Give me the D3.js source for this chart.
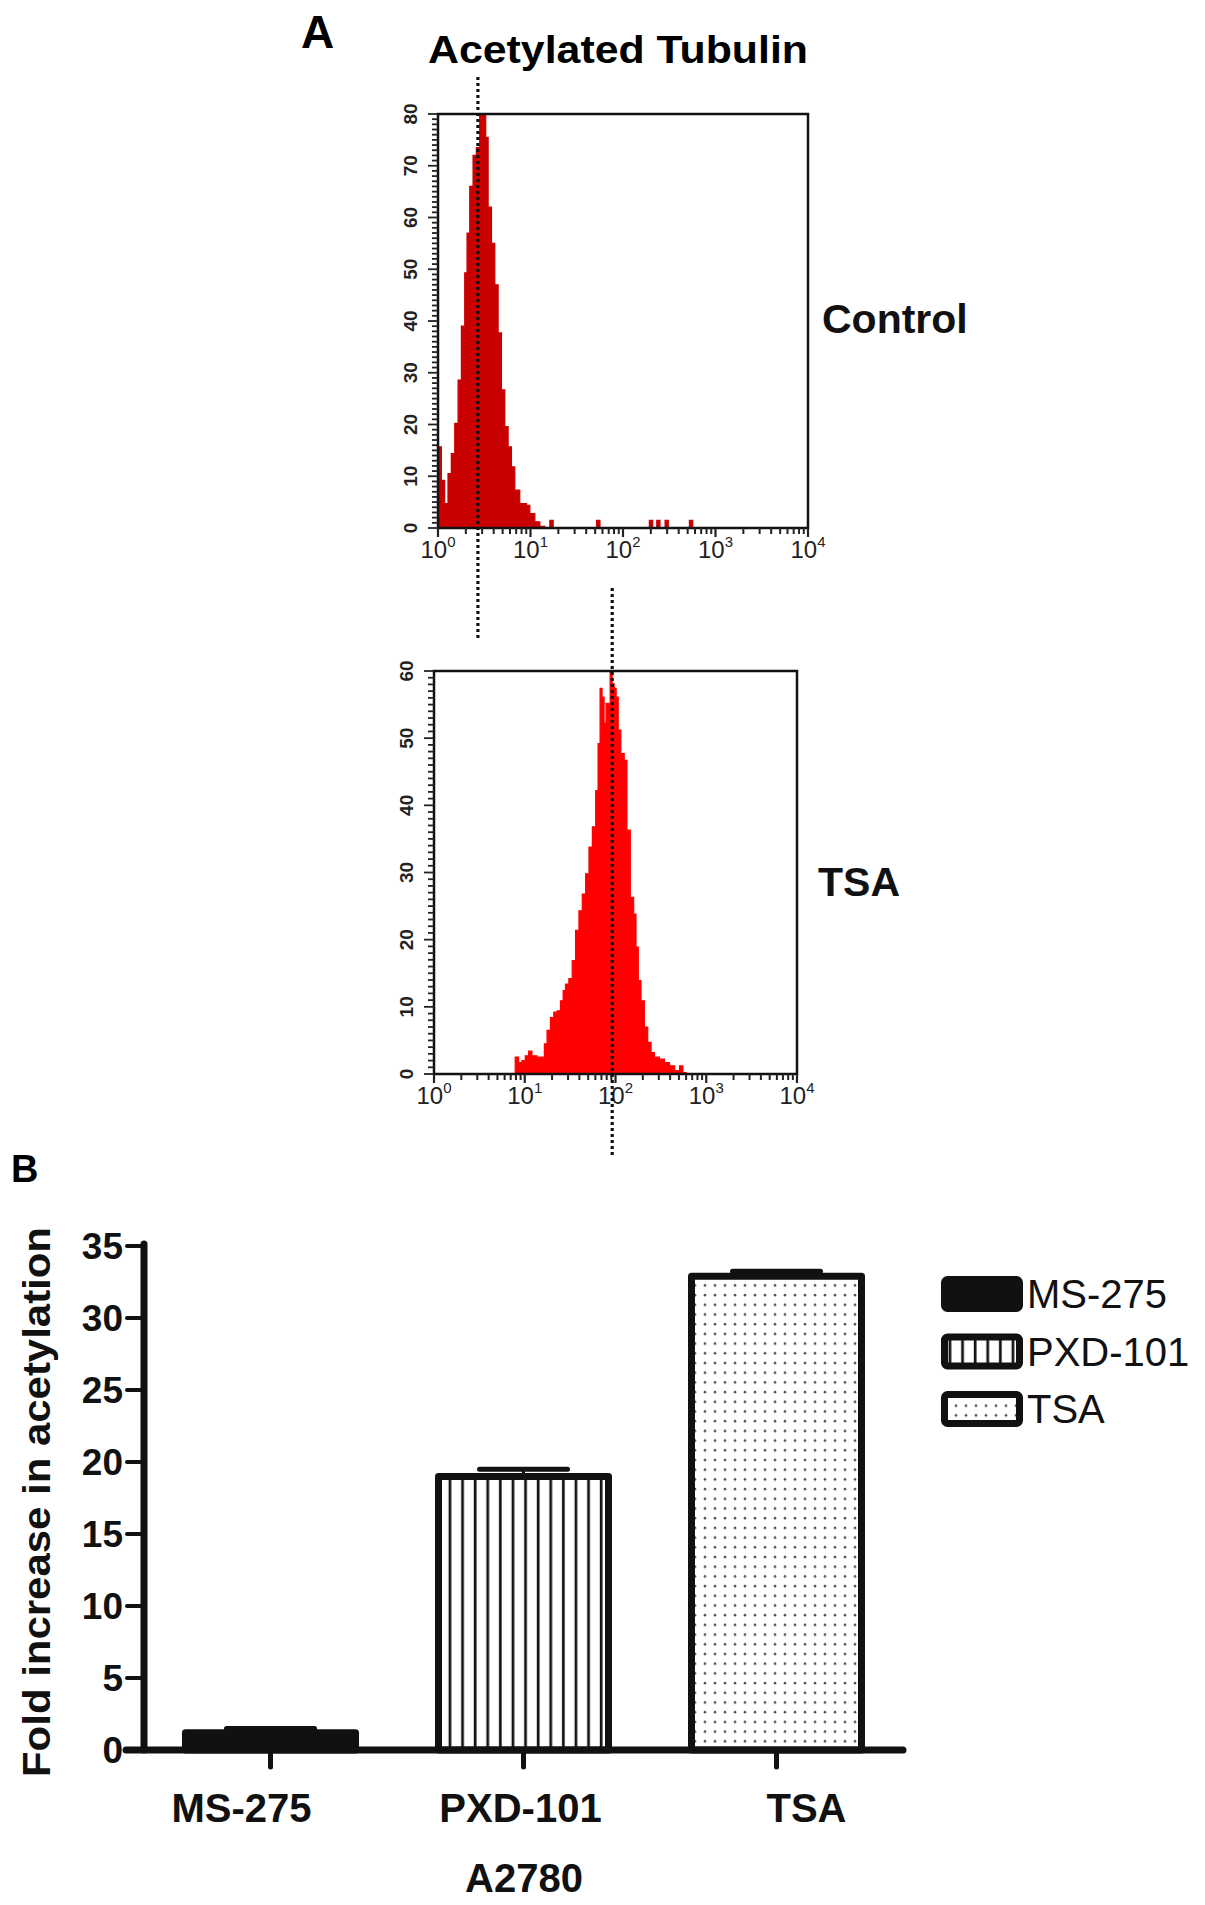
<!DOCTYPE html>
<html>
<head>
<meta charset="UTF-8">
<title>Acetylated Tubulin</title>
<script src="https://cdn.jsdelivr.net/npm/d3@7"></script>
<style>
  body { margin: 0; background: #fff; }
  text { font-family: "Liberation Sans", Arial, Helvetica, sans-serif; }
</style>
</head>
<body>
<svg id="fig" width="1205" height="1905"></svg>
<script>
// --- panel A: flow histograms (log10 intensity -> events) ---
var ctrlLog = [0.000, 0.036, 0.072, 0.108, 0.144, 0.181, 0.217, 0.253, 0.289, 0.314, 0.343, 0.379,
    0.415, 0.451, 0.487, 0.516, 0.542, 0.578, 0.614, 0.650, 0.686, 0.722, 0.758, 0.794, 0.830,
    0.884, 0.957, 0.993, 1.047, 1.101, 1.155, 1.209, 1.245, 1.679, 1.715, 1.751, 2.256, 2.285,
    2.321, 2.365, 2.400, 2.455, 2.490, 2.690, 2.718, 2.754, 4.000];
var ctrlCount = [15.7, 9.2, 4.7, 10.5, 14.4, 20.2, 28.6, 39, 49.3, 57, 66, 72,
    73.5, 80, 80, 75.5, 62, 55, 47, 37.7, 26.7, 19.6, 15.7, 11.8, 7.3,
    4.7, 4.4, 2.8, 1.2, 0.3, 0, 1.5, 0, 0, 1.5, 0, 0, 1.5,
    0, 1.5, 0, 1.5, 0, 0, 1.5, 0, 0];
var ctrlMarker = 2.7;

var tsaLog = [0.000, 0.895, 0.932, 0.969, 1.006, 1.043, 1.079, 1.135, 1.190, 1.216, 1.246, 1.283,
    1.320, 1.357, 1.394, 1.423, 1.449, 1.486, 1.523, 1.560, 1.597, 1.634, 1.671, 1.708, 1.745,
    1.782, 1.808, 1.830, 1.852, 1.874, 1.896, 1.919, 1.941, 1.963, 1.985, 2.007, 2.030, 2.059,
    2.096, 2.126, 2.163, 2.200, 2.226, 2.251, 2.281, 2.318, 2.355, 2.392, 2.429, 2.484, 2.540,
    2.595, 2.651, 2.706, 2.743, 2.780, 4.000];
var tsaCount = [0, 2.5, 1.7, 2, 2.7, 3.4, 2.7, 2.5, 2.5, 4.5, 6.5, 8.4,
    9.2, 9.4, 10.9, 12.4, 13.4, 14.2, 16.9, 21.4, 24.3, 26.8, 29.8, 33.8, 36.8,
    42.2, 49.2, 57.4, 56.1, 52.2, 55.2, 55.2, 59.9, 58.1, 57.4, 56.1, 51.2, 47.7,
    46.7, 36.3, 26.3, 23.8, 18.9, 13.9, 10.9, 7, 4.7, 3.2, 2.5, 2.2, 1.7,
    1.2, 0.5, 1.2, 0.2, 0, 0];
var tsaMarker = 92;

var decades = [1, 10, 100, 1000, 10000];

// --- panel B: fold increase in acetylation, A2780 ---
var drugs = ["MS-275", "PXD-101", "TSA"];
var foldMean = [1.2, 19.0, 32.9];
var foldErr = [0.3, 0.5, 0.35];
var foldTicks = [0, 5, 10, 15, 20, 25, 30, 35];

var svg = d3.select("#fig");
var defs = svg.append("defs");

defs.append("pattern")
    .attr("id", "vlines")
    .attr("patternUnits", "userSpaceOnUse")
    .attr("width", 12.6).attr("height", 10)
  .append("rect")
    .attr("x", 7.6).attr("y", 0).attr("width", 2.7).attr("height", 10)
    .attr("fill", "#111");

var dp = defs.append("pattern")
    .attr("id", "dots")
    .attr("patternUnits", "userSpaceOnUse")
    .attr("width", 10).attr("height", 9.7);
dp.append("rect").attr("width", 10).attr("height", 9.7).attr("fill", "#fff");
dp.append("circle").attr("cx", 5).attr("cy", 5).attr("r", 1.3).attr("fill", "#555");

// headings
svg.append("text").attr("x", 301).attr("y", 48)
    .attr("font-size", 46).attr("font-weight", "bold").text("A");
svg.append("text").attr("x", 428).attr("y", 63)
    .attr("font-size", 39).attr("font-weight", "bold")
    .attr("textLength", 380).attr("lengthAdjust", "spacingAndGlyphs")
    .text("Acetylated Tubulin");
svg.append("text").attr("x", 11).attr("y", 1182)
    .attr("font-size", 38).attr("font-weight", "bold").text("B");

function histogram(o) {
    var x = d3.scaleLog().domain([1, 10000]).range([o.left, o.right]);
    var y = d3.scaleLinear().domain([0, o.ymax]).range([o.bottom, o.top]);
    var g = svg.append("g");

    var pts = o.logs.map(function (l, i) { return [Math.pow(10, l), o.counts[i]]; });
    var area = d3.area()
        .curve(d3.curveStepAfter)
        .x(function (d) { return x(d[0]); })
        .y0(y(0))
        .y1(function (d) { return y(d[1]); });
    g.append("path").datum(pts)
        .attr("d", area)
        .attr("fill", o.color)
        .attr("stroke", o.color)
        .attr("stroke-width", 1.2);

    // frame
    g.append("rect")
        .attr("x", o.left).attr("y", o.top)
        .attr("width", o.right - o.left).attr("height", o.bottom - o.top)
        .attr("fill", "none").attr("stroke", "#111").attr("stroke-width", 2.5);

    // y ticks
    var minorY = d3.range(0, o.ymax + 1, 1);
    g.selectAll(".ym").data(minorY).enter().append("line")
        .attr("x1", function (d) { return d % 10 === 0 ? o.left - 10 : o.left - 6; })
        .attr("x2", o.left)
        .attr("y1", function (d) { return y(d); })
        .attr("y2", function (d) { return y(d); })
        .attr("stroke", "#222").attr("stroke-width", 1.8);
    g.selectAll(".yl").data(d3.range(0, o.ymax + 1, 10)).enter().append("text")
        .attr("transform", function (d) { return "translate(" + (o.left - 21) + "," + y(d) + ") rotate(-90)"; })
        .attr("text-anchor", "middle")
        .attr("font-size", 19).attr("font-weight", "bold").attr("fill", "#222")
        .text(function (d) { return d; });

    // x ticks (log)
    var minorX = [];
    decades.slice(0, 4).forEach(function (d) {
        for (var k = 2; k <= 9; k++) minorX.push(d * k);
    });
    g.selectAll(".xm").data(minorX).enter().append("line")
        .attr("x1", function (d) { return x(d); }).attr("x2", function (d) { return x(d); })
        .attr("y1", o.bottom).attr("y2", o.bottom + 6)
        .attr("stroke", "#222").attr("stroke-width", 2);
    g.selectAll(".xM").data(decades).enter().append("line")
        .attr("x1", function (d) { return x(d); }).attr("x2", function (d) { return x(d); })
        .attr("y1", o.bottom).attr("y2", o.bottom + 9)
        .attr("stroke", "#222").attr("stroke-width", 2.2);
    var lab = g.selectAll(".xl").data(decades).enter().append("text")
        .attr("x", function (d) { return x(d); })
        .attr("y", o.bottom + 30)
        .attr("text-anchor", "middle")
        .attr("font-size", 24).attr("fill", "#222");
    lab.append("tspan").text("10");
    lab.append("tspan").attr("dy", -11).attr("font-size", 15)
        .text(function (d) { return Math.round(Math.log10(d)); });

    // marker line
    g.append("line")
        .attr("x1", x(o.marker)).attr("x2", x(o.marker))
        .attr("y1", o.markTop).attr("y2", o.markBottom)
        .attr("stroke", "#111").attr("stroke-width", 3.2)
        .attr("stroke-dasharray", "3,3");

    svg.append("text").attr("x", o.labelX).attr("y", o.labelY)
        .attr("font-size", 41).attr("font-weight", "bold").attr("fill", "#111")
        .text(o.label);
}

histogram({ left: 438, right: 808, top: 114, bottom: 528, ymax: 80,
    logs: ctrlLog, counts: ctrlCount, color: "#c80000",
    marker: ctrlMarker, markTop: 77, markBottom: 640,
    label: "Control", labelX: 822, labelY: 333 });

histogram({ left: 434, right: 797, top: 671, bottom: 1074, ymax: 60,
    logs: tsaLog, counts: tsaCount, color: "#ff0000",
    marker: tsaMarker, markTop: 588, markBottom: 1158,
    label: "TSA", labelX: 818, labelY: 896 });

// --- bar chart ---
var yB = d3.scaleLinear().domain([0, 35]).range([1750, 1246]);
var xB = d3.scaleBand().domain(drugs).range([144, 903])
    .paddingInner(0.328).paddingOuter(0.164);
var fills = ["#111", "url(#vlines)", "url(#dots)"];
var labelNudge = [-29, -3, 30];

var bars = svg.append("g");
bars.selectAll("rect").data(drugs).enter().append("rect")
    .attr("x", function (d) { return xB(d); })
    .attr("y", function (d, i) { return yB(foldMean[i]); })
    .attr("width", xB.bandwidth())
    .attr("height", function (d, i) { return yB(0) - yB(foldMean[i]); })
    .attr("fill", function (d, i) { return fills[i]; })
    .attr("stroke", "#111").attr("stroke-width", 7)
    .attr("stroke-linejoin", "round");

var err = svg.append("g").attr("stroke", "#111").attr("stroke-linecap", "round");
drugs.forEach(function (d, i) {
    var cx = xB(d) + xB.bandwidth() / 2;
    err.append("line")
        .attr("x1", cx).attr("x2", cx)
        .attr("y1", yB(foldMean[i])).attr("y2", yB(foldMean[i] + foldErr[i]))
        .attr("stroke-width", 3);
    err.append("line")
        .attr("x1", cx - 44).attr("x2", cx + 44)
        .attr("y1", yB(foldMean[i] + foldErr[i])).attr("y2", yB(foldMean[i] + foldErr[i]))
        .attr("stroke-width", 5);
});

// axes
var ax = svg.append("g").attr("stroke", "#111").attr("stroke-linecap", "round");
ax.append("line").attr("x1", 144).attr("x2", 144)
    .attr("y1", yB(35) - 2).attr("y2", yB(0)).attr("stroke-width", 7);
ax.append("line").attr("x1", xB.range()[0] - 18).attr("x2", xB.range()[1])
    .attr("y1", yB(0)).attr("y2", yB(0)).attr("stroke-width", 7);
ax.selectAll(".yt").data(foldTicks.slice(1)).enter().append("line")
    .attr("x1", 127).attr("x2", 144)
    .attr("y1", function (d) { return yB(d); }).attr("y2", function (d) { return yB(d); })
    .attr("stroke-width", 4);
ax.selectAll(".xt").data(drugs).enter().append("line")
    .attr("x1", function (d) { return xB(d) + xB.bandwidth() / 2; })
    .attr("x2", function (d) { return xB(d) + xB.bandwidth() / 2; })
    .attr("y1", yB(0)).attr("y2", yB(0) + 17)
    .attr("stroke-width", 5);

svg.selectAll(".ytl").data(foldTicks).enter().append("text")
    .attr("x", 123).attr("y", function (d) { return yB(d); })
    .attr("dy", "0.36em")
    .attr("text-anchor", "end")
    .attr("font-size", 37).attr("font-weight", "bold").attr("fill", "#111")
    .text(function (d) { return d; });

svg.selectAll(".xtl").data(drugs).enter().append("text")
    .attr("x", function (d, i) { return xB(d) + xB.bandwidth() / 2 + labelNudge[i]; })
    .attr("y", 1822)
    .attr("text-anchor", "middle")
    .attr("font-size", 40).attr("font-weight", "bold").attr("fill", "#111")
    .text(function (d) { return d; });

svg.append("text").attr("x", 524).attr("y", 1892)
    .attr("text-anchor", "middle")
    .attr("font-size", 40).attr("font-weight", "bold").attr("fill", "#111")
    .text("A2780");

svg.append("text")
    .attr("transform", "translate(50,1502) rotate(-90)")
    .attr("text-anchor", "middle")
    .attr("font-size", 38).attr("font-weight", "bold").attr("fill", "#111")
    .attr("textLength", 550).attr("lengthAdjust", "spacingAndGlyphs")
    .text("Fold increase in acetylation");

// legend
var leg = svg.append("g").attr("transform", "translate(941,1276)");
var row = leg.selectAll("g").data(drugs).enter().append("g")
    .attr("transform", function (d, i) { return "translate(0," + (i * 57.5) + ")"; });
row.append("rect")
    .attr("x", 3.5).attr("y", 3.5).attr("width", 75).attr("height", 29).attr("rx", 3)
    .attr("fill", function (d, i) { return fills[i]; })
    .attr("stroke", "#111").attr("stroke-width", 7);
row.append("text")
    .attr("x", 86).attr("y", 32)
    .attr("font-size", 40).attr("fill", "#111")
    .text(function (d) { return d; });
</script>
</body>
</html>
